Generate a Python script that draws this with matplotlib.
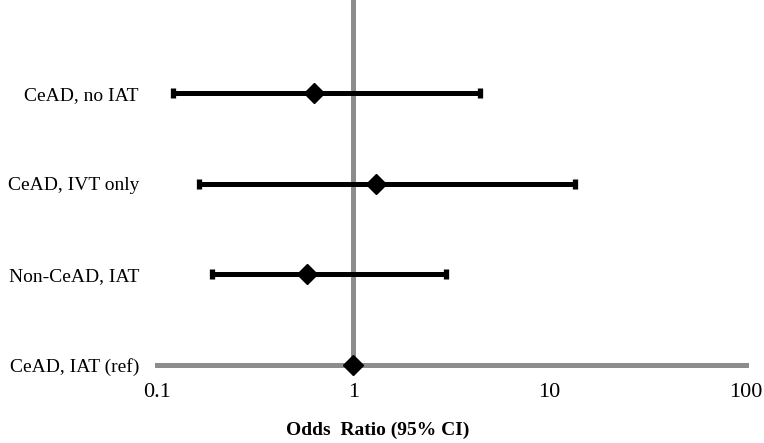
import numpy as np
import matplotlib.pyplot as plt

# data
groups = ["CeAD, IAT (ref)", "Non-CeAD, IAT", "CeAD, IVT only", "CeAD, no IAT"]
odds = [1.0, 0.58, 1.31, 0.63]
ci_low = [1.0, 0.19, 0.163, 0.121]
ci_high = [1.0, 2.97, 13.5, 4.43]
xticks = [0.1, 1, 10, 100]
xtick_labels = ["0.1", "1", "10", "100"]

plt.rcParams['font.family'] = ['Liberation Serif', 'DejaVu Serif']

fig = plt.figure(figsize=(7.64, 4.43), dpi=100)
ax = fig.add_axes([157 / 764, 1 - 365 / 443, (746 - 157) / 764, 365 / 443])

grey = "#8c8c8c"
ypos = np.arange(len(groups))
odds = np.array(odds)
err = np.array([odds - np.array(ci_low), np.array(ci_high) - odds])

# reference line at OR = 1
ax.axvline(1, color=grey, lw=3.6, zorder=1)

# whiskers for the non-reference groups
ax.errorbar(odds[1:], ypos[1:], xerr=err[:, 1:], fmt="none", ecolor="black",
            elinewidth=3.6, capsize=3.3, capthick=3.8, zorder=2)
ax.plot(odds, ypos, linestyle="none", marker="D", markersize=10,
        color="black", clip_on=False, zorder=3)

ax.set_xscale("log")
ax.set_xlim(0.1, 100)
ax.set_ylim(0, 4.03)
ax.set_xticks(xticks)
ax.set_xticklabels(xtick_labels, fontsize=16)
ax.xaxis.set_minor_locator(plt.NullLocator())
ax.set_yticks(ypos)
ax.set_yticklabels(groups, fontsize=14)
ax.tick_params(axis="both", length=0)
ax.tick_params(axis="x", pad=13)
ax.tick_params(axis="y", pad=13)

for side in ["top", "right", "left"]:
    ax.spines[side].set_visible(False)
ax.spines["bottom"].set_color(grey)
ax.spines["bottom"].set_linewidth(3.6)
ax.spines["bottom"].set_zorder(1)

fig.text(0.495, 1 - 430 / 443, "Odds  Ratio (95% CI)", ha="center", va="center",
         fontsize=14, fontweight="bold")

fig.savefig("out.png", dpi=100)
